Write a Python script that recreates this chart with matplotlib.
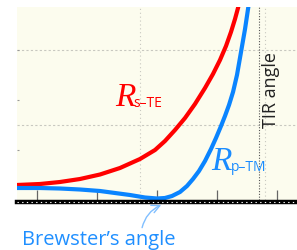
import matplotlib
matplotlib.use("Agg")
import matplotlib.pyplot as plt

# Angle of incidence (deg) and reflectance (arbitrary units)
rs_angle = [6.67, 10.5, 13.83, 17.17, 20.5, 23.83, 27.17, 29.67, 31.33, 33.0, 34.67, 36.33,
            38.0, 39.33, 40.5, 41.5, 42.33, 43.0, 43.5, 43.83]
rs_value = [0.30, 0.32, 0.36, 0.42, 0.51, 0.64, 0.82, 1.00, 1.18, 1.40, 1.64, 1.92,
            2.24, 2.52, 2.80, 3.08, 3.36, 3.62, 3.84, 4.02]

rp_angle = [6.67, 10.5, 13.83, 17.17, 20.5, 23.0, 25.5, 28.0, 30.0, 31.33, 32.5, 33.83, 35.0,
            36.0, 37.0, 38.0, 39.0, 39.83, 40.67, 41.33, 42.0, 42.67, 43.33, 44.0, 44.67,
            45.17, 45.42]
rp_value = [0.24, 0.24, 0.23, 0.21, 0.18, 0.14, 0.10, 0.05, 0.03, 0.04, 0.08, 0.16, 0.28,
            0.42, 0.58, 0.78, 1.02, 1.24, 1.48, 1.68, 1.90, 2.16, 2.50, 2.96, 3.42,
            3.82, 4.02]

brewster_angle = 30.0
tir_angle = 47.0
x_ticks = [10, 20, 30, 40, 50]
y_ticks = [1, 2, 3]
h_grid = [1.5, 3.0]
v_grid = [27.2, 48.0]

fig = plt.figure(figsize=(2.97, 2.51), dpi=100)
ax = fig.add_axes([17 / 297, 50 / 251, 280 / 297, 193 / 251])
ax.set_facecolor('#fcfcee')
ax.set_xlim(6.67, 53.33)
ax.set_ylim(0, 3.86)
for s in ax.spines.values():
    s.set_visible(False)

for g in h_grid:
    ax.axhline(g, color='#c8c8c0', lw=0.8, ls=(0, (2, 2)), zorder=1)
for g in v_grid:
    ax.axvline(g, color='#c8c8c0', lw=0.8, ls=(0, (1, 2.5)), zorder=1)
ax.axvline(tir_angle, color='#555555', lw=0.8, ls=(0, (1, 1.5)), zorder=1)

ax.set_xticks(x_ticks)
ax.set_yticks(y_ticks)
ax.set_xticklabels([])
ax.set_yticklabels([])
ax.tick_params(axis='x', direction='in', length=7, width=0.9, color='#666666')
ax.tick_params(axis='y', direction='in', length=1.5, width=0.8, color='#999999')

ax.plot(rs_angle, rs_value, color='#ff0000', lw=3.0, solid_capstyle='butt',
        solid_joinstyle='round', zorder=3)
ax.plot(rp_angle, rp_value, color='#0a84ff', lw=3.0, solid_capstyle='butt',
        solid_joinstyle='round', zorder=4)

ax.axhline(-0.03, color='black', lw=3.2, zorder=5, clip_on=False)
ax.axhline(-0.03, color='white', lw=0.8, ls=(0, (1.2, 3)), zorder=6, clip_on=False)

ax.text(23.0, 1.9, 'R', color='#ff0000', fontsize=24, family='Liberation Serif',
        style='italic', ha='left', va='baseline', zorder=7)
ax.text(26.0, 1.88, 's\u2013TE', color='#ff0000', fontsize=10, family='Open Sans',
        ha='left', va='baseline', zorder=7)
ax.text(39.1, 0.62, 'R', color='#1a8cff', fontsize=24, family='Liberation Serif',
        style='italic', ha='left', va='baseline', zorder=7)
ax.text(42.3, 0.6, 'p\u2013TM', color='#1a8cff', fontsize=10, family='Open Sans',
        ha='left', va='baseline', zorder=7)
ax.text(49.0, 2.22, 'TIR angle', color='#222222', fontsize=13, family='Open Sans',
        rotation=90, ha='center', va='center', zorder=7)

ax.annotate('Brewster\u2019s angle', xy=(brewster_angle + 0.7, -0.1), xytext=(20.3, -0.88),
            textcoords='data', color='#1f8fff', fontsize=14.5, family='Open Sans',
            ha='center', va='baseline', annotation_clip=False,
            arrowprops=dict(arrowstyle='->', color='#80bfff', lw=1.0,
                            connectionstyle='arc3,rad=-0.25',
                            shrinkA=1, shrinkB=0, patchA=None,
                            relpos=(0.78, 1.0)))

fig.savefig('out.png', dpi=100)
